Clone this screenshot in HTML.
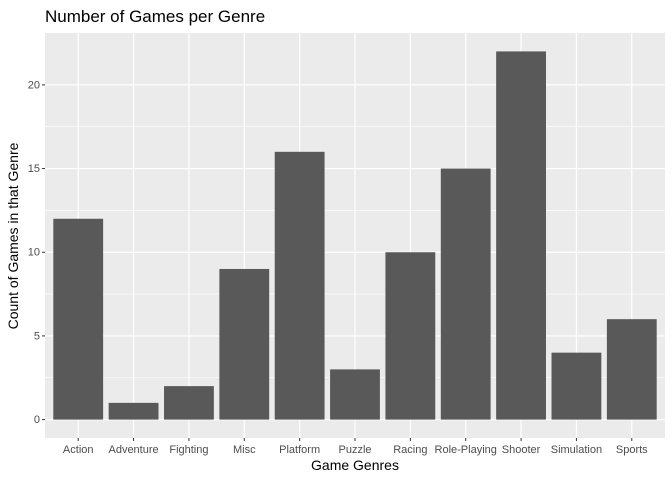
<!DOCTYPE html>
<html><head><meta charset="utf-8"><style>
body{margin:0;background:#fff;font-family:"Liberation Sans",sans-serif}
</style></head><body>
<svg width="672" height="480" xmlns="http://www.w3.org/2000/svg" font-family="Liberation Sans, sans-serif">
<text x="45" y="22" font-size="17" fill="#000">Number of Games per Genre</text>
<rect x="45" y="33" width="620" height="405" fill="#EBEBEB"/>
<g id="grid"></g><g id="bars"></g><g id="axes"></g>
<text x="355" y="470" font-size="14" text-anchor="middle">Game Genres</text>
<text transform="translate(18,236) rotate(-90)" font-size="14" text-anchor="middle">Count of Games in that Genre</text>
</svg>
<script>
const categories=["Action","Adventure","Fighting","Misc","Platform","Puzzle","Racing","Role-Playing","Shooter","Simulation","Sports"];
const counts=[12,1,2,9,16,3,10,15,22,4,6];
const yTicks=[0,5,10,15,20];
const NS="http://www.w3.org/2000/svg";
const L=45,R=665,T=33,B=438;
const ymax=Math.max(...counts),ylo=-ymax*0.05,yhi=ymax*1.05;
const y=v=>B-(v-ylo)/(yhi-ylo)*(B-T);
const step=(R-L)/(categories.length-1+1.2);
const x=i=>L+step*(0.6+i);
function mk(t,a,p){const e=document.createElementNS(NS,t);for(const k in a)e.setAttribute(k,a[k]);document.getElementById(p).appendChild(e);return e;}
// minor grid
for(let i=0;i<yTicks.length-1;i++){const v=(yTicks[i]+yTicks[i+1])/2;const l=mk("line",{x1:L,x2:R,y1:y(v),y2:y(v),stroke:"#fff","stroke-width":0.6},"grid");

}
yTicks.forEach(v=>{const l=mk("line",{x1:L,x2:R,y1:y(v),y2:y(v),stroke:"#fff","stroke-width":1.2},"grid");


const t=mk("text",{x:40,y:y(v)+3.5,"font-size":11,"text-anchor":"end",fill:"#4D4D4D"},"axes");t.textContent=v;


const tk=mk("line",{x1:42,x2:45,y1:y(v),y2:y(v),stroke:"#333"},"axes");

});
categories.forEach((c,i)=>{const g=mk("line",{x1:x(i),x2:x(i),y1:T,y2:B,stroke:"#fff","stroke-width":1.2},"grid");


const bw=step*0.9;const b=mk("rect",{x:x(i)-bw/2,y:y(counts[i]),width:bw,height:y(0)-y(counts[i]),fill:"#595959"},"bars");


const t=mk("text",{x:x(i),y:453,"font-size":11,"text-anchor":"middle",fill:"#4D4D4D"},"axes");t.textContent=c;


const tk=mk("line",{x1:x(i),x2:x(i),y1:B,y2:B+3,stroke:"#333"},"axes");

});
</script>
</body></html>
